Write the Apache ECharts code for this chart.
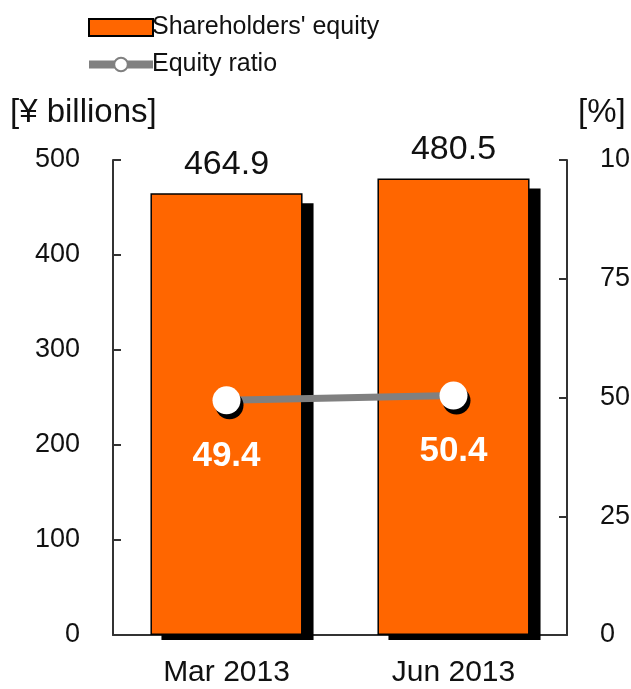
<!DOCTYPE html>
<html><head><meta charset="utf-8">
<script src="https://cdn.jsdelivr.net/npm/echarts@6/dist/echarts.min.js"></script>
<style>html,body{margin:0;padding:0;background:#fff}#c{width:631px;height:689px}</style>
</head><body><div id="c"></div>
<script>
const categories = ['Mar 2013', 'Jun 2013'];
const equity = [464.9, 480.5];
const ratio = [49.4, 50.4];
const leftTicks = [0, 100, 200, 300, 400, 500];
const rightTicks = [0, 25, 50, 75, 100];
const FONT = 'Liberation Sans';
const BAR_FRAC = 0.67;

const chart = echarts.init(document.getElementById('c'));
chart.setOption({
  animation: false,
  textStyle: { fontFamily: FONT },
  legend: {
    orient: 'vertical', left: 80, top: 10, itemGap: 12,
    itemWidth: 64, itemHeight: 17,
    textStyle: { fontSize: 25, color: '#111', fontFamily: FONT, padding: [0, 0, 0, -6] },
    data: [
      { name: "Shareholders' equity", icon: 'rect', itemStyle: { color: '#FF6600', borderColor: '#000', borderWidth: 2 } },
      { name: 'Equity ratio', lineStyle: { color: '#808080', width: 8 },
        itemStyle: { color: '#fff', borderColor: '#808080', borderWidth: 2 } }
    ]
  },
  grid: { left: 113, right: 64, top: 160, bottom: 54, outerBoundsMode: 'none', containLabel: false },
  xAxis: {
    type: 'category', data: categories,
    axisLine: { lineStyle: { color: '#333', width: 2 } },
    axisTick: { show: false },
    axisLabel: { fontSize: 30, color: '#111', margin: 23 }
  },
  yAxis: [
    {
      type: 'value', min: 0, max: 500, interval: 100,
      name: '[¥ billions]', nameLocation: 'end', nameGap: 31,
      nameTextStyle: { fontSize: 33, color: '#111', align: 'left', padding: [0, 0, 0, -103] },
      axisLine: { show: true, lineStyle: { color: '#333', width: 2 } },
      axisTick: { show: true, inside: true, length: 8, lineStyle: { color: '#333', width: 2 } },
      axisLabel: { fontSize: 27, color: '#111', margin: 33,
        formatter: v => leftTicks.includes(v) ? String(v) : '' },
      splitLine: { show: false }
    },
    {
      type: 'value', min: 0, max: 100, interval: 25, position: 'right',
      name: '[%]', nameLocation: 'end', nameGap: 31,
      nameTextStyle: { fontSize: 33, color: '#111', align: 'left', padding: [0, 0, 0, 11] },
      axisLine: { show: true, lineStyle: { color: '#333', width: 2 } },
      axisTick: { show: true, inside: true, length: 8, lineStyle: { color: '#333', width: 2 } },
      axisLabel: { fontSize: 27, color: '#111', margin: 33,
        formatter: v => rightTicks.includes(v) ? String(v) : '' },
      splitLine: { show: false }
    }
  ],
  series: [
    {
      name: 'shadow', type: 'custom', yAxisIndex: 0, z: 1, silent: true,
      data: equity.map((v, i) => [i, v]),
      encode: { x: 0, y: 1 },
      renderItem: (params, api) => {
        const idx = api.value(0), v = api.value(1);
        const top = api.coord([idx, v]);
        const base = api.coord([idx, 0]);
        const bw = api.size([1, 0])[0] * BAR_FRAC;
        return {
          type: 'rect',
          shape: { x: top[0] - bw / 2 + 11, y: top[1] + 10, width: bw, height: base[1] - top[1] - 10 + 5 },
          style: { fill: '#000' }
        };
      }
    },
    {
      name: "Shareholders' equity", type: 'bar', data: equity, yAxisIndex: 0, z: 2,
      barWidth: (BAR_FRAC * 100) + '%',
      itemStyle: { color: '#FF6600', borderColor: '#000', borderWidth: 1.5 },
      label: { show: true, position: 'top', distance: 12, fontSize: 34, color: '#111',
        formatter: p => p.value.toFixed(1) }
    },
    {
      name: 'Equity ratio', type: 'line', data: ratio, yAxisIndex: 1, z: 5,
      symbol: 'circle', symbolSize: 28,
      lineStyle: { color: '#808080', width: 7 },
      itemStyle: { color: '#fff', borderWidth: 0,
        shadowColor: '#000', shadowBlur: 0, shadowOffsetX: 3, shadowOffsetY: 5 },
      label: { show: true, position: 'bottom', distance: 24, fontSize: 35, fontWeight: 'bold',
        color: '#fff', formatter: p => p.value.toFixed(1) }
    }
  ]
});
</script></body></html>
